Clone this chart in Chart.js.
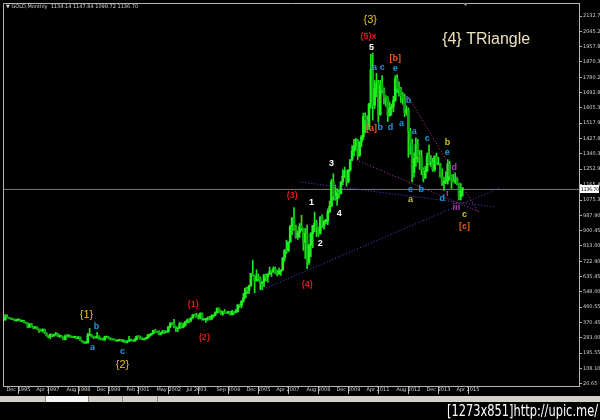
<!DOCTYPE html>
<html>
<head>
<meta charset="utf-8">
<script src="https://cdn.jsdelivr.net/npm/chart.js@4.4.1/dist/chart.umd.min.js"></script>
<style>
  html, body { margin: 0; padding: 0; background: #000; }
  #wrap { width: 600px; height: 420px; position: relative; }
</style>
</head>
<body>
<div id="wrap"><canvas id="goldChart"></canvas></div>
<script>
/* DATA: monthly bars, 16 bars per row (one row per time label) */
const timeLabels = ["Dec 1995", "Apr 1997", "Aug 1998", "Dec 1999", "Feb 2001", "May 2002", "Jul 2003", "Sep 2004",
  "Dec 2005", "Apr 2007", "Aug 2008", "Dec 2009", "Apr 2011", "Aug 2012", "Dec 2013", "Apr 2015"];

const firstOpen = 385;

const closes = [
  387, 405, 400, 396, 392, 391, 382, 385, 387, 379, 379, 371, 369, 345, 364, 348,
  340, 345, 334, 326, 325, 332, 311, 296, 290, 305, 298, 301, 308, 293, 296, 288,
  273, 294, 292, 294, 288, 287, 287, 279, 286, 268, 262, 255, 255, 299, 300, 292,
  289, 284, 293, 278, 276, 272, 288, 289, 282, 278, 274, 273, 265, 270, 273, 266,
  267, 258, 264, 268, 270, 265, 273, 293, 291, 279, 275, 277, 282, 297, 302, 308,
  326, 318, 317, 304, 312, 324, 317, 318, 347, 367, 366, 348, 336, 339, 364, 346,
  354, 376, 385, 384, 398, 416, 415, 400, 397, 424, 388, 389, 393, 396, 391, 408,
  415, 428, 453, 438, 422, 434, 428, 427, 435, 417, 436, 430, 433, 473, 470, 495,
  513, 568, 556, 582, 654, 643, 613, 633, 624, 598, 604, 646, 632, 650, 665, 662,
  680, 656, 650, 666, 673, 743, 789, 783, 834, 923, 972, 916, 864, 887, 926, 913,
  833, 884, 717, 815, 882, 928, 942, 917, 883, 978, 927, 954, 955, 1007, 1040, 1182,
  1096, 1081, 1118, 1113, 1180, 1213, 1244, 1181, 1248, 1307, 1357, 1385, 1421, 1332, 1410, 1439,
  1556, 1536, 1500, 1628, 1826, 1620, 1714, 1746, 1565, 1737, 1710, 1669, 1664, 1560, 1604, 1614,
  1648, 1773, 1719, 1713, 1675, 1663, 1578, 1595, 1472, 1393, 1234, 1313, 1396, 1327, 1323, 1253,
  1202, 1244, 1326, 1284, 1291, 1250, 1327, 1282, 1287, 1210, 1172, 1183, 1184, 1283, 1213, 1183,
  1182, 1190, 1172, 1095, 1134, 1136.70
];

const highs = [
  389, 418, 416, 401, 397, 394, 392, 390, 394, 388, 386, 384, 374, 370, 366, 366,
  350, 350, 347, 336, 334, 336, 334, 313, 298, 306, 305, 302, 316, 310, 301, 297,
  290, 301, 302, 302, 296, 293, 290, 291, 292, 290, 269, 264, 260, 310, 338, 304,
  293, 292, 316, 295, 285, 280, 293, 291, 291, 284, 280, 275, 274, 272, 275, 274,
  272, 268, 268, 293, 276, 270, 280, 294, 293, 294, 285, 280, 286, 304, 306, 311,
  328, 332, 320, 326, 315, 325, 325, 322, 349, 372, 370, 390, 352, 342, 374, 370,
  369, 377, 391, 395, 399, 417, 418, 426, 417, 428, 427, 392, 395, 404, 408, 416,
  416, 433, 456, 456, 442, 437, 447, 431, 437, 436, 442, 438, 447, 474, 478, 497,
  540, 571, 575, 585, 655, 730, 645, 675, 651, 634, 608, 649, 650, 652, 690, 672,
  692, 690, 672, 684, 675, 745, 790, 845, 835, 930, 975, 1033, 932, 900, 941, 988,
  915, 912, 932, 823, 888, 930, 1006, 960, 920, 980, 990, 960, 965, 1025, 1070, 1195,
  1227, 1162, 1141, 1135, 1181, 1249, 1265, 1245, 1250, 1309, 1388, 1424, 1431, 1424, 1411, 1447,
  1575, 1577, 1560, 1632, 1913, 1921, 1764, 1804, 1764, 1764, 1791, 1720, 1676, 1670, 1640, 1627,
  1672, 1790, 1796, 1755, 1723, 1694, 1684, 1617, 1605, 1488, 1424, 1347, 1433, 1424, 1361, 1361,
  1262, 1270, 1345, 1392, 1331, 1315, 1330, 1345, 1322, 1287, 1255, 1207, 1238, 1307, 1298, 1220,
  1224, 1232, 1205, 1172, 1170, 1147.84
];

const lows = [
  382, 385, 398, 394, 388, 388, 381, 380, 384, 378, 377, 370, 366, 341, 344, 346,
  336, 338, 331, 315, 320, 316, 308, 294, 283, 278, 290, 292, 299, 290, 286, 286,
  272, 272, 288, 289, 285, 285, 282, 278, 279, 268, 257, 252, 252, 253, 296, 288,
  280, 281, 282, 275, 272, 270, 270, 286, 278, 272, 271, 271, 264, 264, 267, 262,
  258, 255, 255, 263, 267, 263, 264, 271, 287, 275, 273, 271, 276, 282, 289, 298,
  308, 316, 314, 300, 300, 310, 308, 315, 316, 342, 360, 342, 320, 319, 337, 341,
  341, 352, 370, 368, 377, 395, 410, 399, 391, 393, 386, 386, 372, 384, 386, 389,
  399, 411, 427, 430, 418, 412, 425, 424, 422, 414, 415, 418, 428, 432, 459, 456,
  488, 512, 537, 537, 580, 639, 543, 610, 610, 561, 560, 578, 613, 603, 649, 636,
  660, 651, 639, 649, 642, 672, 724, 768, 780, 833, 878, 901, 856, 849, 860, 898,
  786, 740, 681, 705, 750, 802, 893, 866, 866, 880, 918, 908, 938, 934, 1003, 1038,
  1075, 1075, 1045, 1088, 1110, 1164, 1203, 1155, 1174, 1241, 1300, 1329, 1361, 1309, 1326, 1382,
  1423, 1462, 1478, 1480, 1604, 1535, 1601, 1668, 1523, 1563, 1690, 1627, 1613, 1527, 1557, 1563,
  1583, 1642, 1692, 1672, 1636, 1626, 1555, 1562, 1321, 1338, 1180, 1207, 1269, 1292, 1251, 1221,
  1180, 1200, 1238, 1277, 1268, 1240, 1240, 1280, 1277, 1206, 1160, 1131, 1170, 1167, 1191, 1142,
  1178, 1170, 1162, 1077, 1077, 1098.72
];

const lastOpen = 1134.14;
const lastPrice = 1136.70;

const priceTicks = [2132.70, 2045.25, 1957.80, 1870.35, 1780.25, 1692.80, 1605.35, 1517.90, 1427.80,
  1340.35, 1252.90, 1165.45, 1075.35, 987.90, 900.45, 813.00, 722.90, 635.45, 548.00, 460.55,
  370.45, 283.00, 195.55, 108.10, 20.65];

/* wave marks: [bar, price, text, group] */
const waveLabels = [
  [44.3, 415, "{1}", "major"], [49.6, 346, "b", "minor"], [47.5, 226, "a", "minor"],
  [63.5, 208, "c", "minor"], [63.5, 128, "{2}", "major"],
  [101.3, 473, "(1)", "inter"], [107.2, 283, "(2)", "inter"], [154.1, 1099, "(3)", "inter"],
  [164.3, 1059, "1", "sub"], [169, 823, "2", "sub"], [162.1, 593, "(4)", "inter"],
  [175, 1283, "3", "sub"], [179.2, 996, "4", "sub"],
  [195.7, 2111, "{3}", "major"], [194.7, 2013, "(5)x", "inter"], [196.3, 1955, "5", "sub"],
  [197.9, 1835, "a", "minor"], [202.1, 1835, "c", "minor"], [209, 1887, "[b]", "bracket"],
  [209, 1829, "e", "minor"], [196.3, 1484, "[a]", "bracket"], [201, 1490, "b", "minor"],
  [206.4, 1490, "d", "minor"], [216, 1645, "b", "minor"], [212.3, 1513, "a", "minor"],
  [219.2, 1467, "a", "minor"], [226.1, 1427, "c", "minor"], [236.8, 1404, "b", "olive"],
  [236.8, 1346, "e", "minor"], [240.5, 1260, "d", "violet"], [217.1, 1139, "c", "minor"],
  [222.9, 1139, "b", "minor"], [217.1, 1076, "a", "olive"], [236.8, 1116, "i", "violet"],
  [234.1, 1082, "d", "minor"], [241.6, 1030, "iii", "violet"], [245.9, 990, "c", "olive"],
  [245.9, 921, "[c]", "bracket"]
];

/* trend lines: [bar1, price1, bar2, price2, group] */
const trendLines = [
  [132.8, 536, 264.5, 1145, "blue"],
  [157.9, 1180, 261.9, 1036, "blue"],
  [188.3, 1306, 253.9, 1007, "violet"],
  [216, 1668, 252.8, 1013, "violet"]
];

const titleText = "{4} TRiangle";
const titlePos = [234, 1996];

/* STYLE */
const palette = {
  major: "#e8c21a", inter: "#e01818", sub: "#ffffff", minor: "#1e9be6",
  bracket: "#e85a1e", olive: "#c8c22a", violet: "#b43cb4", blue: "#4a4ae0"
};
const axisColor = "#b4b4b4";
const textColor = "#d0d0d0";
const slots = 307;

const opens = closes.map((c, i) => i === 0 ? firstOpen : (i === closes.length - 1 ? lastOpen : closes[i - 1]));

const lineSets = trendLines.map(t => ({
  type: "line",
  data: [{ x: t[0], y: t[1] }, { x: t[2], y: t[3] }],
  borderColor: palette[t[4]],
  borderWidth: 1,
  borderDash: [1, 2],
  pointRadius: 0,
  order: 0
}));

const overlay = {
  id: "overlay",
  beforeDraw(chart) {
    const c = chart.ctx;
    c.save();
    c.fillStyle = "#000";
    c.fillRect(0, 0, chart.width, chart.height);
    c.restore();
  },
  afterDraw(chart) {
    const c = chart.ctx, xs = chart.scales.x, ys = chart.scales.y, a = chart.chartArea;
    c.save();
    // frame top and left
    c.strokeStyle = axisColor;
    c.lineWidth = 1;
    c.beginPath();
    c.moveTo(a.left + 0.5, a.bottom);
    c.lineTo(a.left + 0.5, a.top + 0.5);
    c.lineTo(a.right, a.top + 0.5);
    c.stroke();
    // shift marker
    c.fillStyle = "#9a9a9a";
    c.beginPath();
    c.moveTo(xs.getPixelForValue(246.5) - 2.5, a.top);
    c.lineTo(xs.getPixelForValue(246.5) + 2.5, a.top);
    c.lineTo(xs.getPixelForValue(246.5), a.top + 3);
    c.fill();
    // header
    c.fillStyle = textColor;
    c.font = '5px "DejaVu Sans"';
    c.textBaseline = "middle";
    c.textAlign = "left";
    c.fillText("\u25BC GOLD,Monthly  " + lastOpen.toFixed(2) + " " + highs[highs.length - 1].toFixed(2) + " " +
      lows[lows.length - 1].toFixed(2) + " " + lastPrice.toFixed(2), a.left + 3, a.top + 3.5);
    // wave marks
    c.textAlign = "center";
    waveLabels.forEach(w => {
      const big = w[3] === "major";
      c.font = (big ? "" : "bold ") + (big ? 11 : 9) + 'px "Liberation Sans"';
      c.fillStyle = palette[w[3]];
      c.fillText(w[2], xs.getPixelForValue(w[0]), ys.getPixelForValue(w[1]));
    });
    // title
    c.textAlign = "left";
    c.font = '16px "Liberation Sans"';
    c.fillStyle = "#ece0b8";
    c.fillText(titleText, xs.getPixelForValue(titlePos[0]), ys.getPixelForValue(titlePos[1]));
    // price box
    const py = Math.round(ys.getPixelForValue(lastPrice));
    c.fillStyle = "#ffffff";
    c.fillRect(a.right + 1, py - 4, chart.width - a.right - 2, 8);
    c.fillStyle = "#000";
    c.font = '5px "DejaVu Sans"';
    c.fillText(lastPrice.toFixed(2), a.right + 2, py + 0.5, chart.width - a.right - 3);
    // tab strip
    const ty = xs.bottom;
    c.fillStyle = "#d4d0c8";
    c.fillRect(0, ty, chart.width, 6);
    c.fillStyle = "#f4f4f4";
    c.fillRect(45, ty, 43, 6);
    c.strokeStyle = "#8a8a8a";
    [45, 88, 122, 157].forEach(x => {
      c.beginPath(); c.moveTo(x + 0.5, ty); c.lineTo(x + 0.5, ty + 6); c.stroke();
    });
    // watermark
    c.fillStyle = "#ffffff";
    c.font = '15px "DejaVu Sans Condensed", "DejaVu Sans"';
    c.textBaseline = "alphabetic";
    c.fillText("[1273x851]http://upic.me/", 447, 416, 151);
    c.restore();
  }
};

new Chart(document.getElementById("goldChart"), {
  type: "bar",
  data: {
    datasets: [
      ...lineSets,
      {
        type: "line",
        data: [{ x: -0.2, y: lastPrice }, { x: slots, y: lastPrice }],
        borderColor: "#7a7a7a",
        borderWidth: 1,
        pointRadius: 0,
        order: 3
      },
      {
        data: lows.map((l, i) => ({ x: i, y: [l, highs[i]] })),
        backgroundColor: "#1ee61e",
        barThickness: 1,
        grouped: false,
        order: 2
      },
      {
        data: closes.map((c, i) => ({ x: i, y: [opens[i], c] })),
        backgroundColor: closes.map((c, i) => c >= opens[i] ? "#22f022" : "#12a812"),
        barThickness: 2,
        minBarLength: 1,
        grouped: false,
        order: 1
      }
    ]
  },
  options: {
    responsive: true,
    maintainAspectRatio: false,
    animation: false,
    events: [],
    layout: { padding: { left: 3, top: 3, right: 0, bottom: 24 } },
    plugins: { legend: { display: false }, tooltip: { enabled: false } },
    scales: {
      x: {
        type: "linear",
        min: -0.2,
        max: slots,
        offset: false,
        grid: { drawOnChartArea: false, tickLength: 8, color: axisColor },
        border: { color: axisColor },
        ticks: {
          color: textColor,
          font: { size: 5, family: "DejaVu Sans" },
          align: "start",
          labelOffset: 3,
          padding: -7,
          maxRotation: 0,
          autoSkip: false,
          callback: v => timeLabels[v / 16]
        },
        afterBuildTicks: s => { s.ticks = timeLabels.map((t, i) => ({ value: i * 16 })); },
        afterFit: s => { s.height = 10; s.paddingLeft = 0; s.paddingRight = 0; }
      },
      y: {
        position: "right",
        min: 7,
        max: 2208,
        grid: { drawOnChartArea: false, tickLength: 3, color: axisColor },
        border: { color: axisColor },
        ticks: {
          color: textColor,
          font: { size: 5, family: "DejaVu Sans" },
          padding: 1,
          autoSkip: false,
          callback: v => v.toFixed(2)
        },
        afterBuildTicks: s => { s.ticks = priceTicks.map(v => ({ value: v })); },
        afterFit: s => { s.width = 21; s.paddingTop = 0; s.paddingBottom = 0; }
      }
    }
  },
  plugins: [overlay]
});
</script>
</body>
</html>
